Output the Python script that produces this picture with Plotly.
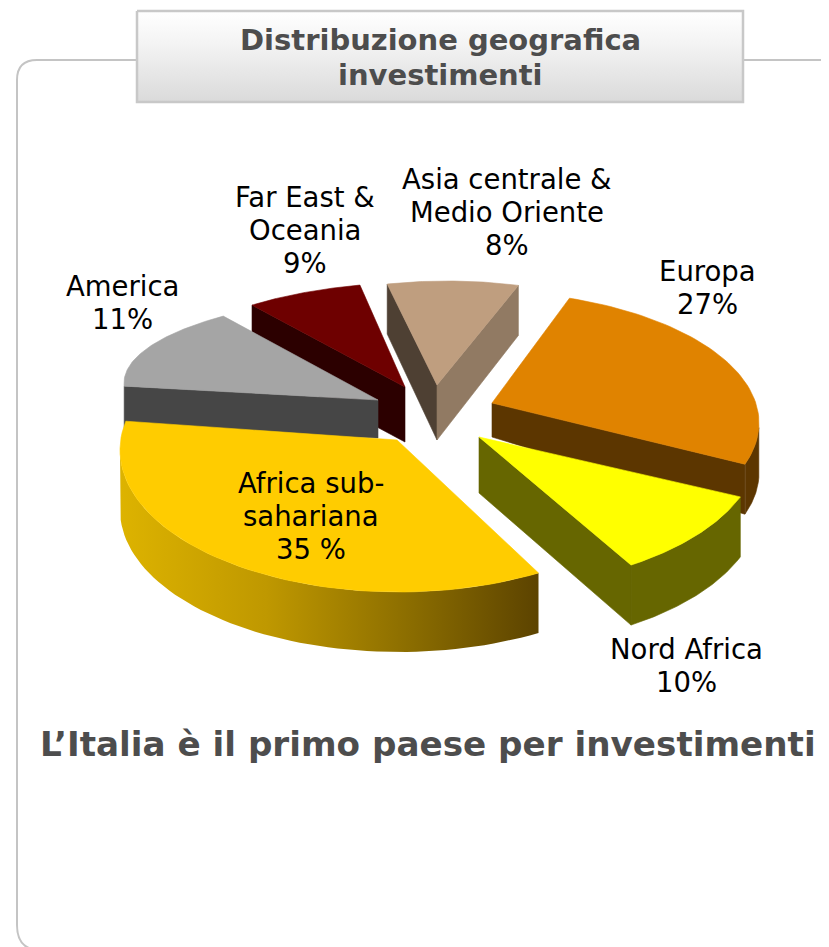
import math
import numpy as np
import plotly.graph_objects as go

# ---- data
categories = ["Europa", "Nord Africa", "Africa sub-sahariana", "America", "Far East & Oceania", "Asia centrale & Medio Oriente"]
values = [27, 10, 35, 11, 9, 8]
labels = ["Europa<br>27%", "Nord Africa<br>10%", "Africa sub-<br>sahariana<br>35 %", "America<br>11%", "Far East &<br>Oceania<br>9%", "Asia centrale &<br>Medio Oriente<br>8%"]
title_lines = ["Distribuzione geografica", "investimenti"]
note_text = "L’Italia è il primo paese per investimenti"

# ---- colours
top_colors = ["#E08300", "#FFFF00", "#FFCC00", "#A5A5A5", "#6E0000", "#BF9E7F"]
wall_colors = ["#5C3600", "#666600", None, "#464646", "#2C0000", "#4E4033"]
asia_right_wall = "#917A63"
africa_wall_scale = [[0, "#DDB300"], [0.35, "#BF9800"], [0.7, "#8A6C00"], [1, "#5C4300"]]

# ---- projection of the exploded, tilted pie (screen px)
START = 19.0
apex = [(492, 403), (479, 437), (397, 440), (378, 400), (405, 387), (437, 385)]
centre = [(478, 423), (478, 446), (399, 450), (424, 383), (428, 372), (447, 371)]
radii = [(281, 132), (281, 142), (279, 142), (300, 90), (263, 90), (231, 90)]
warp = [(0, -8), (-5.2, -5.2), (-2.2, 3.5), (-10.2, 0.2), (0.2, -5.2), (-5.2, -1)]
rim_height = [50, 60, 60, 45, 55, 50]
apex_height = [34, 56, 60, 38, 55, 55]
draw_order = [5, 4, 3, 0, 1, 2]
cut_walls = {0: ["end"], 1: ["end"], 3: ["start"], 4: ["start"], 5: ["start", "end"]}
rim_walls = {0: (92, 108), 1: None, 2: (150, 270)}

cum = np.concatenate([[0], np.cumsum(values)]) / sum(values) * 360 + START


def rim(i, a0, a1, n=60):
    cx, cy = centre[i]
    rx, ry = radii[i]
    t = np.radians(np.linspace(a0, a1, n))
    return cx + rx * np.sin(t), cy - ry * np.cos(t)


def span(i):
    return cum[i] + warp[i][0], cum[i + 1] + warp[i][1]


def poly(xs, ys, color=None, gradient=None):
    xs, ys = list(xs), list(ys)
    kw = dict(x=xs + xs[:1], y=ys + ys[:1], mode="lines", fill="toself", hoverinfo="skip", showlegend=False)
    if gradient:
        kw["fillgradient"] = gradient
        kw["line"] = dict(width=0)
    else:
        kw["fillcolor"] = color
        kw["line"] = dict(width=0.6, color=color)
    return go.Scatter(**kw)


fig = go.Figure()

box_x, box_y = [137, 743, 743, 137], [11, 11, 102, 102]
for i in draw_order:
    a0, a1 = span(i)
    ax, ay = apex[i]
    for side in cut_walls.get(i, []):
        ang = a0 if side == "start" else a1
        ex, ey = rim(i, ang, ang, 1)
        col = asia_right_wall if (i == 5 and side == "end") else wall_colors[i]
        fig.add_trace(poly(
            [ax, ex[0], ex[0], ax],
            [ay, ey[0], ey[0] + rim_height[i], ay + apex_height[i]], col))
    if i in rim_walls:
        rng = rim_walls[i] if rim_walls[i] else (a0, a1)
        rx_, ry_ = rim(i, rng[0], rng[1])
        xs = np.concatenate([rx_, rx_[::-1]])
        ys = np.concatenate([ry_, ry_[::-1] + rim_height[i]])
        if i == 2:
            fig.add_trace(poly(xs, ys, gradient=dict(type="horizontal", colorscale=africa_wall_scale)))
        else:
            fig.add_trace(poly(xs, ys, wall_colors[i]))
    tx, ty = rim(i, a0, a1)
    fig.add_trace(poly(np.concatenate([[ax], tx]), np.concatenate([[ay], ty]), top_colors[i]))

fig.add_trace(go.Scatter(
    x=box_x + box_x[:1], y=box_y + box_y[:1], mode="lines", fill="toself",
    fillgradient=dict(type="vertical", colorscale=[[0, "#DADADA"], [0.65, "#F4F4F4"], [1, "#FFFFFF"]]),
    line=dict(color="#C8C8C8", width=2.5), hoverinfo="skip", showlegend=False))

LINE_STEP = 33
label_pos = [(707, 287), (686, 665), (311, 516), (122, 302), (305, 230), (507, 212)]
for lab, (x, y) in zip(labels, label_pos):
    rows = lab.split("<br>")
    for k, row in enumerate(rows):
        fig.add_annotation(x=x, y=y + (k - (len(rows) - 1) / 2) * LINE_STEP, text=row, showarrow=False,
                           xanchor="center", yanchor="middle", align="center",
                           font=dict(family="DejaVu Sans", size=27.5, color="#000000"))
for k, row in enumerate(title_lines):
    fig.add_annotation(x=440, y=40 + k * 35, text=row, showarrow=False, xanchor="center", yanchor="middle",
                       font=dict(family="DejaVu Sans", size=29, color="#4D4D4D", weight="bold"))
fig.add_annotation(x=38, y=744, text=note_text, showarrow=False, xanchor="left", yanchor="middle",
                   font=dict(family="DejaVu Sans", size=34.2, color="#4D4D4D", weight="bold"))

# the page adds an 8px margin around the plot, so the axes start at 8
fig.update_layout(
    width=821, height=939, margin=dict(l=0, r=0, t=0, b=0),
    paper_bgcolor="white", plot_bgcolor="white",
    xaxis=dict(range=[8, 829], visible=False, fixedrange=True),
    yaxis=dict(range=[947, 8], visible=False, fixedrange=True),
    shapes=[dict(type="path", layer="below",
                 path="M 829 60 L 37 60 Q 17 60 17 80 L 17 925 Q 17 950 40 950 L 829 950",
                 line=dict(color="#C4C4C4", width=2))],
)
fig.write_html("out.html")
